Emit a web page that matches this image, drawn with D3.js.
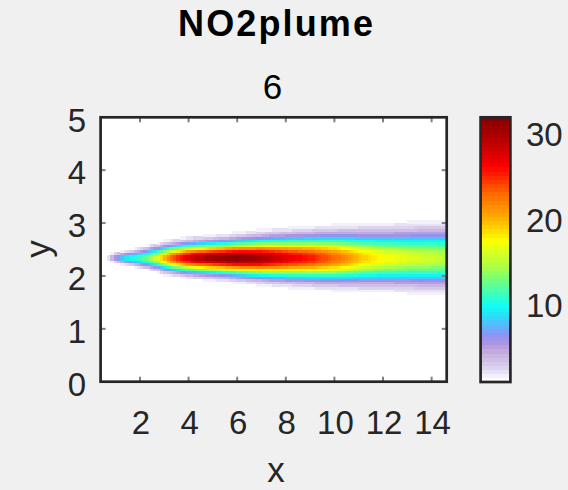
<!DOCTYPE html>
<html>
<head>
<meta charset="utf-8">
<script src="https://cdn.jsdelivr.net/npm/d3@7"></script>
<style>
  html, body { margin: 0; padding: 0; background: #f0f0f0; }
  svg { display: block; font-family: "Liberation Sans", Arial, Helvetica, sans-serif; }
</style>
</head>
<body>
<svg id="chart" width="568" height="490"></svg>
<script>
// ---- data ----
const titleText = "NO2plume";
const subtitleText = "6";
const xLabel = "x";
const yLabel = "y";
const xTicks = [2, 4, 6, 8, 10, 12, 14];
const yTicks = [0, 1, 2, 3, 4, 5];
const colorTicks = [10, 20, 30];
const xExtent = [0.38, 14.62];
const yExtent = [0, 5];
const colorExtent = [0.96, 32.04];
const gridCols = 105;
const gridRows = 100;
const plumeCenterY = 2.35;

// centreline concentration along the plume axis
const axisX    = [0.55, 0.7, 0.85, 1.05, 1.3, 1.6, 2.0, 2.4, 2.75, 3.1, 3.5, 3.9, 4.2, 5.0, 6.0, 7.0, 7.5, 8.3, 9.1, 10.2, 11.1, 12.0, 13.0, 14.62];
const peakConc = [0,    2,   4.5,  7,    9,   10,  11.5, 14,  17,   21.5, 25, 27.5, 29,  31,  32,  30.5, 29,  27,  25.5, 22.5, 19.5, 17.6, 16.5, 15.3];

// cross-wind spread (standard deviation in y) along the plume
const spreadX = [0.55, 1.0,  1.7,   2.5,  3.1,  4.0,  5.8,   7.4,   10.2, 12.5, 14.62];
const spread  = [0.035, 0.06, 0.085, 0.12, 0.145, 0.165, 0.19, 0.225, 0.27, 0.30, 0.325];

// colormap: white through lavender, blue, cyan, green, yellow, orange, red
const cmapValues = [0.96, 2.4, 4.0, 5.3, 6.5, 7.6, 8.6, 9.9, 11.4, 12.9, 14.5, 16.1, 17.6, 19.1, 20.2, 21.6, 23.2, 24.7, 26.4, 28.5, 30.8, 32.04];
const cmapColors = ["#ffffff", "#dcd4ee", "#c8b4e2", "#b094dc", "#8c94f4", "#58b8ff", "#28e0f4", "#10fff0",
                    "#40ffb4", "#70ff80", "#a8ff48", "#d8ff20", "#ffff00", "#ffd400", "#ffb000", "#ff9000",
                    "#ff6800", "#ff3800", "#ff0000", "#d00000", "#a00000", "#880000"];
const colorLevels = 64;

// ---- layout ----
const plot = { left: 100.6, right: 446.7, top: 117.3, bottom: 381.7 };
const cbar = { left: 480.6, right: 510.4, top: 117.3, bottom: 382 };
const axisColor = "#262626";

const svg = d3.select("#chart");

const x = d3.scaleLinear().domain(xExtent).range([plot.left, plot.right]);
const y = d3.scaleLinear().domain(yExtent).range([plot.bottom, plot.top]);
const cbY = d3.scaleLinear().domain(colorExtent).range([cbar.bottom, cbar.top]);

const peakAt = d3.scaleLinear().domain(axisX).range(peakConc).clamp(true);
const spreadAt = d3.scaleLinear().domain(spreadX).range(spread).clamp(true);

const cmap = d3.scaleLinear().domain(cmapValues).range(cmapColors)
  .interpolate(d3.interpolateRgb).clamp(true);
const levelScale = d3.scaleQuantize().domain(colorExtent).range(d3.range(colorLevels));
function levelColor(k) {
  return cmap(colorExtent[0] + (k / (colorLevels - 1)) * (colorExtent[1] - colorExtent[0]));
}
function valueColor(v) {
  if (v <= colorExtent[0]) return levelColor(0);
  if (v >= colorExtent[1]) return levelColor(colorLevels - 1);
  return levelColor(levelScale(v));
}

// ---- concentration grid ----
const dx = (xExtent[1] - xExtent[0]) / gridCols;
const dy = (yExtent[1] - yExtent[0]) / gridRows;
const cells = [];
for (let i = 0; i < gridCols; i++) {
  const xc = xExtent[0] + (i + 0.5) * dx;
  const p = peakAt(xc);
  const s = spreadAt(xc);
  for (let j = 0; j < gridRows; j++) {
    const yc = yExtent[0] + (j + 0.5) * dy;
    const d = yc - plumeCenterY;
    const v = p * Math.exp(-(d * d) / (2 * s * s));
    cells.push({ x0: xc - dx / 2, y0: yc - dy / 2, v });
  }
}

svg.append("rect")
  .attr("x", plot.left).attr("y", plot.top)
  .attr("width", plot.right - plot.left).attr("height", plot.bottom - plot.top)
  .attr("fill", "#ffffff");

svg.append("g")
  .attr("shape-rendering", "crispEdges")
  .selectAll("rect")
  .data(cells.filter(c => valueColor(c.v) !== levelColor(0)))
  .join("rect")
  .attr("x", c => x(c.x0))
  .attr("y", c => y(c.y0 + dy))
  .attr("width", x(xExtent[0] + dx) - x(xExtent[0]) + 0.6)
  .attr("height", y(0) - y(dy) + 0.6)
  .attr("fill", c => valueColor(c.v));

// ---- axes box and ticks ----
const tickLen = 4;
const tickG = svg.append("g").attr("stroke", "#808080").attr("stroke-width", 2);
xTicks.forEach(t => {
  tickG.append("line").attr("x1", x(t)).attr("x2", x(t))
    .attr("y1", plot.bottom).attr("y2", plot.bottom - tickLen - 1);
  tickG.append("line").attr("x1", x(t)).attr("x2", x(t))
    .attr("y1", plot.top).attr("y2", plot.top + tickLen + 1);
});
yTicks.filter(t => t > yExtent[0] && t < yExtent[1]).forEach(t => {
  tickG.append("line").attr("y1", y(t)).attr("y2", y(t))
    .attr("x1", plot.left).attr("x2", plot.left + tickLen + 1);
  tickG.append("line").attr("y1", y(t)).attr("y2", y(t))
    .attr("x1", plot.right).attr("x2", plot.right - tickLen - 1);
});

svg.append("rect")
  .attr("x", plot.left).attr("y", plot.top)
  .attr("width", plot.right - plot.left).attr("height", plot.bottom - plot.top)
  .attr("fill", "none").attr("stroke", axisColor).attr("stroke-width", 2.7);

const tickFont = 33;
svg.append("g")
  .selectAll("text")
  .data(xTicks)
  .join("text")
  .attr("x", d => x(d) + 1)
  .attr("y", 433.5)
  .attr("text-anchor", "middle")
  .attr("font-size", tickFont)
  .attr("fill", axisColor)
  .text(d => d);

svg.append("g")
  .selectAll("text")
  .data(yTicks)
  .join("text")
  .attr("x", 86)
  .attr("y", d => y(d) + 0.358 * tickFont + 2.5)
  .attr("text-anchor", "end")
  .attr("font-size", tickFont)
  .attr("fill", axisColor)
  .text(d => d);

// ---- labels and titles ----
svg.append("text")
  .attr("x", 276).attr("y", 482)
  .attr("text-anchor", "middle")
  .attr("font-size", 35)
  .attr("fill", axisColor)
  .text(xLabel);

svg.append("text")
  .attr("transform", "translate(50,249) rotate(-90)")
  .attr("text-anchor", "middle")
  .attr("font-size", 35)
  .attr("fill", axisColor)
  .text(yLabel);

svg.append("text")
  .attr("x", 178).attr("y", 36)
  .attr("font-size", 36)
  .attr("font-weight", "bold")
  .attr("fill", "#000000")
  .attr("textLength", 195)
  .attr("lengthAdjust", "spacing")
  .text(titleText);

svg.append("text")
  .attr("x", 272.5).attr("y", 98.5)
  .attr("text-anchor", "middle")
  .attr("font-size", 35)
  .attr("fill", "#000000")
  .text(subtitleText);

// ---- colorbar ----
const bandH = (cbar.bottom - cbar.top) / colorLevels;
svg.append("g")
  .attr("shape-rendering", "crispEdges")
  .selectAll("rect")
  .data(d3.range(colorLevels))
  .join("rect")
  .attr("x", cbar.left)
  .attr("width", cbar.right - cbar.left)
  .attr("y", k => cbar.bottom - (k + 1) * bandH)
  .attr("height", bandH + 0.5)
  .attr("fill", k => levelColor(k));

svg.append("rect")
  .attr("x", cbar.left).attr("y", cbar.top)
  .attr("width", cbar.right - cbar.left).attr("height", cbar.bottom - cbar.top)
  .attr("fill", "none").attr("stroke", axisColor).attr("stroke-width", 2.7);

svg.append("g")
  .selectAll("text")
  .data(colorTicks)
  .join("text")
  .attr("x", 526)
  .attr("y", d => cbY(d) + 0.358 * tickFont)
  .attr("font-size", tickFont)
  .attr("fill", axisColor)
  .text(d => d);
</script>
</body>
</html>
